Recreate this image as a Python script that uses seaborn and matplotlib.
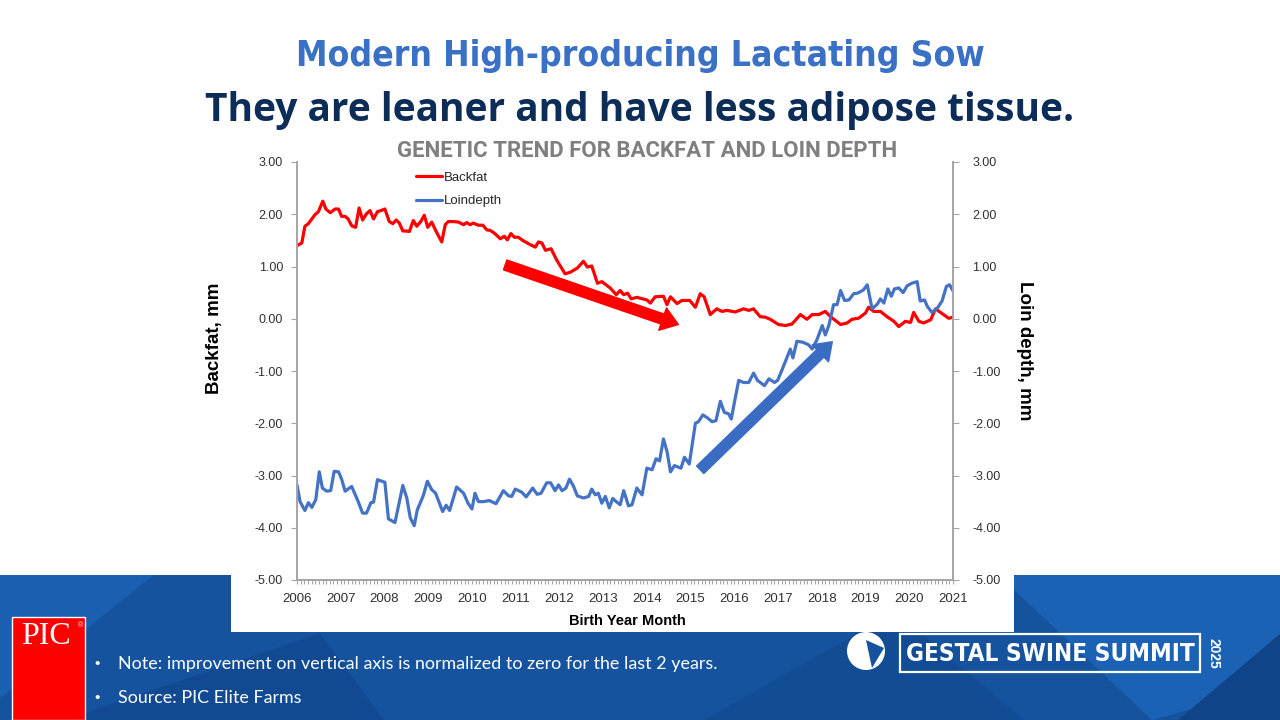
import matplotlib
matplotlib.use('Agg')
import matplotlib.pyplot as plt
from matplotlib.patches import Rectangle, Polygon, Ellipse
from matplotlib.ticker import MultipleLocator
import seaborn as sns
import pandas as pd

# genetic trend (decimal birth year, mm)
backfat_year = [2006.00, 2006.11, 2006.18, 2006.26, 2006.41, 2006.49, 2006.59, 2006.66, 2006.76, 2006.87,
                2006.95, 2007.02, 2007.10, 2007.17, 2007.25, 2007.34, 2007.42, 2007.50, 2007.59, 2007.67,
                2007.75, 2007.84, 2007.92, 2008.01, 2008.11, 2008.19, 2008.27, 2008.34, 2008.42, 2008.49,
                2008.57, 2008.66, 2008.74, 2008.83, 2008.91, 2008.99, 2009.08, 2009.20, 2009.31, 2009.39,
                2009.46, 2009.58, 2009.69, 2009.81, 2009.88, 2009.96, 2010.03, 2010.15, 2010.25, 2010.34,
                2010.42, 2010.51, 2010.65, 2010.74, 2010.81, 2010.89, 2010.97, 2011.06, 2011.18, 2011.33,
                2011.45, 2011.52, 2011.60, 2011.68, 2011.81, 2011.94, 2012.13, 2012.25, 2012.41, 2012.55,
                2012.64, 2012.74, 2012.87, 2012.97, 2013.16, 2013.30, 2013.39, 2013.47, 2013.56, 2013.64,
                2013.77, 2014.00, 2014.08, 2014.19, 2014.38, 2014.46, 2014.54, 2014.69, 2014.80, 2014.98,
                2015.11, 2015.22, 2015.31, 2015.45, 2015.60, 2015.72, 2015.83, 2016.02, 2016.21, 2016.33,
                2016.44, 2016.59, 2016.71, 2016.82, 2017.01, 2017.17, 2017.32, 2017.51, 2017.66, 2017.78,
                2017.93, 2018.08, 2018.20, 2018.43, 2018.58, 2018.69, 2018.84, 2019.00, 2019.07, 2019.19,
                2019.34, 2019.49, 2019.65, 2019.76, 2019.91, 2020.03, 2020.10, 2020.22, 2020.33, 2020.49,
                2020.60, 2020.75, 2020.90, 2021.02]
backfat_mm = [1.40, 1.45, 1.77, 1.82, 1.99, 2.05, 2.25, 2.10, 2.03, 2.10,
              2.10, 1.96, 1.96, 1.91, 1.78, 1.75, 2.12, 1.89, 2.01, 2.07,
              1.91, 2.05, 2.07, 2.10, 1.86, 1.82, 1.89, 1.83, 1.68, 1.68,
              1.67, 1.88, 1.77, 1.86, 1.98, 1.75, 1.85, 1.64, 1.47, 1.80,
              1.86, 1.86, 1.85, 1.80, 1.84, 1.80, 1.83, 1.79, 1.79, 1.70,
              1.69, 1.64, 1.53, 1.58, 1.51, 1.63, 1.56, 1.56, 1.49, 1.42,
              1.37, 1.47, 1.45, 1.31, 1.34, 1.12, 0.86, 0.89, 0.97, 1.10,
              0.99, 1.01, 0.68, 0.71, 0.59, 0.46, 0.54, 0.46, 0.49, 0.38,
              0.41, 0.36, 0.30, 0.42, 0.43, 0.27, 0.42, 0.29, 0.35, 0.35,
              0.22, 0.48, 0.42, 0.08, 0.19, 0.14, 0.16, 0.13, 0.19, 0.16,
              0.19, 0.04, 0.03, -0.01, -0.11, -0.13, -0.10, 0.08, -0.01, 0.08,
              0.08, 0.14, 0.04, -0.11, -0.08, -0.01, 0.01, 0.11, 0.22, 0.14,
              0.14, 0.04, -0.05, -0.15, -0.05, -0.07, 0.12, -0.05, -0.08, -0.02,
              0.19, 0.10, 0.01, 0.03]

loin_year = [2006.00, 2006.07, 2006.18, 2006.26, 2006.34, 2006.43, 2006.51, 2006.58, 2006.68, 2006.77,
             2006.85, 2006.95, 2007.02, 2007.10, 2007.25, 2007.40, 2007.50, 2007.59, 2007.69, 2007.75,
             2007.84, 2008.01, 2008.09, 2008.24, 2008.42, 2008.51, 2008.59, 2008.68, 2008.75, 2008.89,
             2008.98, 2009.08, 2009.17, 2009.33, 2009.41, 2009.49, 2009.65, 2009.81, 2009.91, 2010.00,
             2010.07, 2010.15, 2010.26, 2010.40, 2010.55, 2010.72, 2010.84, 2010.91, 2010.99, 2011.14,
             2011.24, 2011.39, 2011.49, 2011.58, 2011.71, 2011.80, 2011.90, 2011.98, 2012.06, 2012.15,
             2012.23, 2012.32, 2012.41, 2012.55, 2012.67, 2012.74, 2012.82, 2012.89, 2012.97, 2013.05,
             2013.14, 2013.22, 2013.30, 2013.39, 2013.47, 2013.58, 2013.66, 2013.77, 2013.89, 2014.00,
             2014.12, 2014.21, 2014.29, 2014.38, 2014.46, 2014.54, 2014.63, 2014.78, 2014.86, 2014.97,
             2015.11, 2015.18, 2015.28, 2015.39, 2015.49, 2015.58, 2015.68, 2015.77, 2015.87, 2015.93,
             2016.02, 2016.10, 2016.21, 2016.33, 2016.44, 2016.53, 2016.69, 2016.79, 2016.92, 2016.99,
             2017.09, 2017.20, 2017.28, 2017.34, 2017.43, 2017.57, 2017.70, 2017.78, 2017.89, 2018.01,
             2018.08, 2018.16, 2018.27, 2018.35, 2018.43, 2018.52, 2018.62, 2018.73, 2018.82, 2018.95,
             2019.04, 2019.15, 2019.27, 2019.34, 2019.42, 2019.51, 2019.59, 2019.66, 2019.76, 2019.86,
             2019.95, 2020.06, 2020.18, 2020.25, 2020.35, 2020.41, 2020.52, 2020.64, 2020.75, 2020.85,
             2020.92, 2021.01]
loin_mm = [-3.18, -3.50, -3.67, -3.52, -3.61, -3.46, -2.93, -3.24, -3.30, -3.29,
           -2.92, -2.93, -3.07, -3.30, -3.21, -3.50, -3.72, -3.72, -3.52, -3.51,
           -3.08, -3.13, -3.83, -3.90, -3.19, -3.43, -3.81, -3.96, -3.66, -3.38,
           -3.11, -3.27, -3.34, -3.69, -3.57, -3.67, -3.22, -3.34, -3.53, -3.64,
           -3.34, -3.50, -3.50, -3.48, -3.54, -3.29, -3.39, -3.40, -3.26, -3.32,
           -3.41, -3.24, -3.36, -3.34, -3.14, -3.14, -3.29, -3.18, -3.29, -3.24,
           -3.07, -3.20, -3.39, -3.43, -3.40, -3.26, -3.37, -3.34, -3.53, -3.40,
           -3.62, -3.44, -3.50, -3.56, -3.29, -3.58, -3.56, -3.24, -3.37, -2.86,
           -2.89, -2.68, -2.72, -2.30, -2.54, -2.93, -2.81, -2.86, -2.65, -2.78,
           -2.00, -1.97, -1.84, -1.90, -1.97, -1.95, -1.58, -1.79, -1.82, -1.92,
           -1.52, -1.18, -1.22, -1.22, -1.04, -1.18, -1.28, -1.15, -1.22, -1.18,
           -0.98, -0.75, -0.58, -0.75, -0.43, -0.45, -0.50, -0.58, -0.40, -0.13,
           -0.31, -0.13, 0.27, 0.27, 0.54, 0.35, 0.36, 0.48, 0.49, 0.55,
           0.65, 0.19, 0.28, 0.38, 0.30, 0.57, 0.43, 0.57, 0.59, 0.50,
           0.63, 0.68, 0.71, 0.34, 0.36, 0.24, 0.12, 0.20, 0.34, 0.62,
           0.65, 0.52]

year_ticks = list(range(2006, 2022))
y_ticks = [3, 2, 1, 0, -1, -2, -3, -4, -5]
y_tick_labels = ['3.00', '2.00', '1.00', '0.00', '-1.00', '-2.00', '-3.00', '-4.00', '-5.00']

# trend arrows (start, end) in data units
red_arrow = [(2010.76, 1.03), (2014.72, -0.11)]
blue_arrow = [(2015.22, -2.89), (2018.24, -0.44)]

sns.set_theme(style='white')
plt.rcParams['font.family'] = ['Liberation Sans', 'DejaVu Sans']
cond = ['DejaVu Sans']

fig = plt.figure(figsize=(12.8, 7.2), dpi=100)
fig.patch.set_facecolor('white')

# blue footer band with a few facets
band_top = 1 - 575 / 720
fig.patches.append(Rectangle((0, 0), 1, band_top, transform=fig.transFigure,
                             facecolor='#15539f', edgecolor='none', zorder=-3))
facets = [
    ([(0, band_top), (0.12, band_top), (0.0, 0.03)], '#1a5fb0'),
    ([(0.05, 0), (0.25, 0.12), (0.3, 0)], '#114a92'),
    ([(0.55, 0), (0.7, 0.15), (0.8, 0)], '#124c95'),
    ([(0.78, band_top), (1.0, band_top), (1.0, 0.05), (0.9, 0.0)], '#1b62b4'),
    ([(0.92, 0.0), (1.0, 0.0), (1.0, 0.12)], '#0f4488'),
]
for pts, col in facets:
    fig.patches.append(Polygon(pts, closed=True, transform=fig.transFigure,
                               facecolor=col, edgecolor='none', zorder=-2))
# white chart box over the band
fig.patches.append(Rectangle((231 / 1280, 1 - 632 / 720), (1014 - 231) / 1280, 0.1,
                             transform=fig.transFigure, facecolor='white',
                             edgecolor='none', zorder=-1))

ax = fig.add_axes([297 / 1280, 1 - 580 / 720, (953 - 297) / 1280, (580 - 162) / 720])
ax.set_facecolor('white')

bf = pd.DataFrame({'year': backfat_year, 'mm': backfat_mm})
ld = pd.DataFrame({'year': loin_year, 'mm': loin_mm})
sns.lineplot(data=bf, x='year', y='mm', color='#ff0000', linewidth=2.3, sort=False,
             label='Backfat', ax=ax, zorder=3)
sns.lineplot(data=ld, x='year', y='mm', color='#4472c4', linewidth=2.3, sort=False,
             label='Loindepth', ax=ax, zorder=3)

for (x0, y0), (x1, y1), col in [(red_arrow[0], red_arrow[1], '#ff0000'),
                                (blue_arrow[0], blue_arrow[1], '#3a6cc4')]:
    ax.annotate('', xy=(x1, y1), xytext=(x0, y0),
                arrowprops=dict(arrowstyle='simple,head_width=17,head_length=12,tail_width=7.5',
                                mutation_scale=1, color=col, shrinkA=0, shrinkB=0), zorder=4)

ax.set_xlim(2006, 2021)
ax.set_ylim(-5, 3)
ax.set_xticks(year_ticks)
ax.set_xticklabels([str(y) for y in year_ticks], fontsize=9.5, color='#303030')
ax.xaxis.set_minor_locator(MultipleLocator(1 / 12))
ax.set_yticks(y_ticks)
ax.set_yticklabels(y_tick_labels, fontsize=9, color='#303030')
ax.tick_params(axis='x', which='both', bottom=True, direction='out', length=3,
               color='#a6a6a6', width=0.8, pad=6)
ax.tick_params(axis='y', left=True, direction='out', length=4, color='#a6a6a6', width=0.8, pad=6)
ax.set_xlabel('')
ax.set_ylabel('')
ax.grid(False)
for side in ['left', 'right', 'bottom']:
    ax.spines[side].set_color('#a6a6a6')
    ax.spines[side].set_linewidth(1.3)
ax.spines['top'].set_visible(False)

ax2 = ax.twinx()
ax2.set_ylim(-5, 3)
ax2.set_yticks(y_ticks)
ax2.set_yticklabels(y_tick_labels, fontsize=9, color='#303030')
ax2.tick_params(axis='y', right=True, direction='out', length=4, color='#a6a6a6', width=0.8, pad=10)
ax2.grid(False)
for side in ['left', 'right', 'bottom']:
    ax2.spines[side].set_color('#a6a6a6')
    ax2.spines[side].set_linewidth(1.3)
ax2.spines['top'].set_visible(False)

leg = ax.legend(loc='upper left', bbox_to_anchor=(0.163, 1.005), frameon=False, handlelength=2.0,
                handletextpad=0.1, labelspacing=0.85, prop={'size': 9.5})
for line in leg.get_lines():
    line.set_linewidth(2.3)

# headings
fig.text(0.5, 1 - 56 / 720, 'Modern High-producing Lactating Sow', ha='center', va='center',
         fontsize=25.5, fontweight='bold', fontstretch='condensed', color='#3a70c5', family=cond)
fig.text(0.5, 1 - 110 / 720, 'They are leaner and have less adipose tissue.', ha='center',
         va='center', fontsize=28, fontweight='bold', color='#0c2d57',
         family=['Open Sans', 'DejaVu Sans'])
fig.text(647 / 1280, 1 - 151 / 720, 'GENETIC TREND FOR BACKFAT AND LOIN DEPTH', ha='center',
         va='center', fontsize=16, fontweight='bold', fontstretch='condensed', color='#7f7f7f',
         family=['Roboto', 'DejaVu Sans'])

# axis titles
fig.text(215 / 1280, 1 - 338 / 720, 'Backfat, mm', rotation=90, ha='center', va='center',
         fontsize=13.5, fontweight='bold', color='black')
fig.text(1025 / 1280, 1 - 351 / 720, 'Loin depth, mm', rotation=-90, ha='center', va='center',
         fontsize=13.5, fontweight='bold', color='black')
fig.text(627 / 1280, 1 - 621 / 720, 'Birth Year Month', ha='center', va='center',
         fontsize=10.5, fontweight='bold', color='black')

# PIC logo
fig.patches.append(Rectangle((12 / 1280, 0), 73 / 1280, 103 / 720, transform=fig.transFigure,
                             facecolor='#ff0000', edgecolor='white', linewidth=1, zorder=1))
fig.text(46 / 1280, 1 - 637 / 720, 'PIC', ha='center', va='center', fontsize=23, color='white',
         family=['Liberation Serif', 'DejaVu Serif'])
fig.text(80 / 1280, 1 - 626 / 720, '®', ha='center', va='center', fontsize=5, color='white')

# footnotes
for yy, txt in [(664, 'Note: improvement on vertical axis is normalized to zero for the last 2 years.'),
                (698, 'Source: PIC Elite Farms')]:
    fig.text(97 / 1280, 1 - yy / 720, '•', ha='center', va='center', fontsize=11, color='white')
    fig.text(118 / 1280, 1 - yy / 720, txt, ha='left', va='center', fontsize=12.9, color='white',
             family=['Lato', 'DejaVu Sans'])

# Gestal Swine Summit logo
fig.patches.append(Ellipse((866 / 1280, 1 - 651 / 720), 38 / 1280, 38 / 720,
                           transform=fig.transFigure, facecolor='white', edgecolor='none', zorder=1))
fig.patches.append(Polygon([(866 / 1280, 1 - 640 / 720), (884 / 1280, 1 - 648 / 720),
                            (872 / 1280, 1 - 668 / 720)], closed=True, transform=fig.transFigure,
                           facecolor='#15539f', edgecolor='none', zorder=2))
fig.patches.append(Rectangle((900 / 1280, 1 - 672 / 720), 300 / 1280, 38 / 720,
                             transform=fig.transFigure, facecolor='none', edgecolor='white',
                             linewidth=1.6, zorder=1))
fig.text(1050 / 1280, 1 - 654 / 720, 'GESTAL SWINE SUMMIT', ha='center', va='center',
         fontsize=17.5, fontweight='bold', fontstretch='condensed', color='white', family=cond)
fig.text(1213 / 1280, 1 - 653 / 720, '2025', rotation=-90, ha='center', va='center',
         fontsize=10, fontweight='bold', color='white')

fig.savefig('out.png', dpi=100)
